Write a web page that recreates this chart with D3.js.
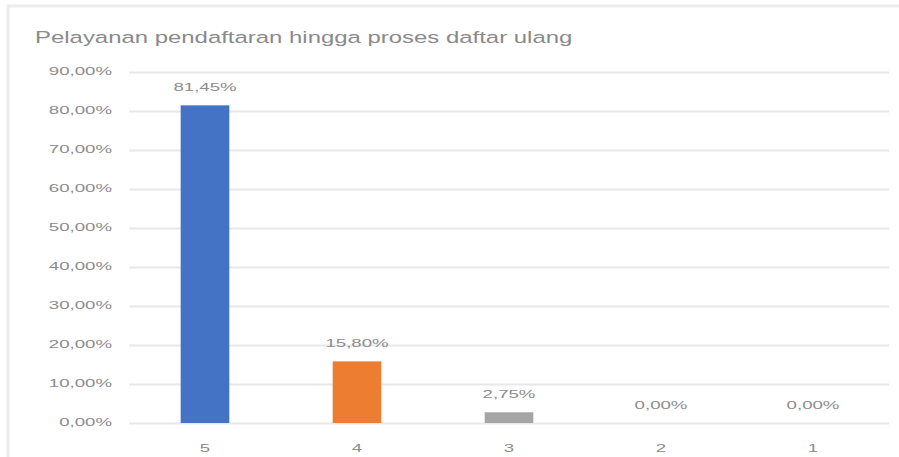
<!DOCTYPE html>
<html><head><meta charset="utf-8">
<script src="https://cdn.jsdelivr.net/npm/d3@7"></script>
<style>body{margin:0;background:#fff}svg{display:block;font-family:"Liberation Sans",Arial,sans-serif}</style>
</head><body><svg width="899" height="457"></svg>
<script>
const categories = ["5","4","3","2","1"];
const values = [81.45, 15.80, 2.75, 0, 0];
const valueLabels = ["81,45%","15,80%","2,75%","0,00%","0,00%"];
const colors = ["#4472C4","#ED7D31","#A5A5A5","#FFC000","#5B9BD5"];
const yTicks = [0,10,20,30,40,50,60,70,80,90];
const title = "Pelayanan pendaftaran hingga proses daftar ulang";

const svg = d3.select("svg");
svg.append("rect").attr("x",8).attr("y",6).attr("width",920).attr("height",480)
  .attr("fill","#fff").attr("stroke","#ececec").attr("stroke-width",3);
const x = d3.scaleBand().domain(categories).range([129,889]).paddingInner(0.68).paddingOuter(0.34);
const y = d3.scaleLinear().domain([0,90]).range([423,72]);

function stext(parent, px, py, anchor, size, str, sx){
  return parent.append("text").attr("transform",`translate(${px},${py}) scale(${sx||1.62},1)`)
    .attr("text-anchor",anchor).attr("font-size",size).attr("fill","#8c8c8c").text(str);
}

stext(svg, 35, 43, "start", 16.5, title, 1.45).attr("fill","#8a8a8a");

const g = svg.append("g");
g.selectAll("line.grid").data(yTicks).join("line").attr("class","grid")
  .attr("x1",129).attr("x2",889).attr("y1",d=>y(d)+0.5).attr("y2",d=>y(d)+0.5)
  .attr("stroke","#e8e8e8").attr("stroke-width",2);

const yAxisG = svg.append("g");
yTicks.forEach(t => stext(yAxisG, 112, y(t)+3, "end", 11.5, t.toFixed(2).replace(".",",")+"%"));

const xAxisG = svg.append("g");
categories.forEach(c => stext(xAxisG, x(c)+x.bandwidth()/2, 452, "middle", 11.5, c));

g.selectAll("rect.bar").data(values).join("rect").attr("class","bar")
  .attr("x",(d,i)=>x(categories[i])).attr("width",x.bandwidth())
  .attr("y",d=>y(d)).attr("height",d=>y(0)-y(d)).attr("fill",(d,i)=>colors[i]);

const lg = svg.append("g");
values.forEach((d,i)=> stext(lg, x(categories[i])+x.bandwidth()/2, y(d)-14, "middle", 11.5, valueLabels[i]));
</script></body></html>
